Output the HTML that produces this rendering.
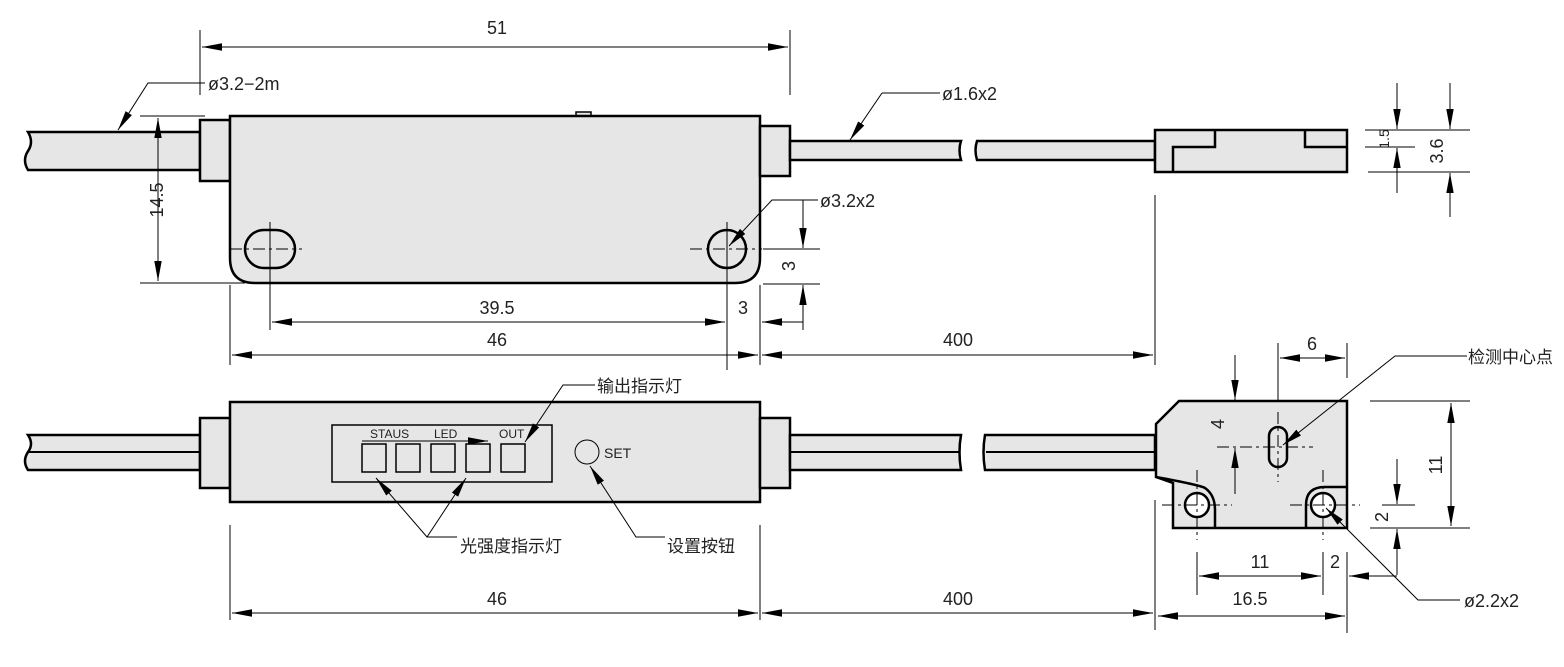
<!DOCTYPE html>
<html><head><meta charset="utf-8"><style>
html,body{margin:0;padding:0;background:#fff}
svg{display:block}
text{font-family:"Liberation Sans Narrow","Liberation Sans","Noto Sans CJK SC",sans-serif;font-size:18px;fill:#222}
.cn{font-family:"Liberation Sans","Noto Sans CJK SC",sans-serif;font-size:17px}
.o{fill:#e6e6e6;stroke:#000;stroke-width:2.5}
.t{fill:none;stroke:#000;stroke-width:1}
.k{fill:none;stroke:#000;stroke-width:2.5}
.c{fill:none;stroke:#000;stroke-width:1;stroke-dasharray:12 4 3 4}
.d{fill:none;stroke:#000;stroke-width:1;marker-start:url(#a);marker-end:url(#a)}
.e{fill:none;stroke:#000;stroke-width:1;marker-end:url(#a)}
</style></head><body>
<svg width="1564" height="667" viewBox="0 0 1564 667" xmlns="http://www.w3.org/2000/svg">
<defs><marker id="a" markerUnits="userSpaceOnUse" markerWidth="22" markerHeight="10" refX="20" refY="5" orient="auto-start-reverse"><path d="M0,1.3 L20,5 L0,8.7 Z" fill="#000"/></marker></defs>

<!-- TOP VIEW -->
<path class="o" d="M28,132 H200 V170 H28 Q22,160 28,151 Q34,142 28,132 Z"/>
<rect class="o" x="200" y="120" width="30" height="61"/>
<rect class="o" x="576" y="112" width="15" height="4" style="stroke-width:1.5"/>
<path class="o" d="M230,116 H760 V258 Q760,283 735,283 H255 Q230,283 230,258 Z"/>
<rect class="o" x="760" y="126" width="30" height="50"/>
<path class="o" d="M790,141 H961 Q958,150 961,160 H790 Z"/>
<path class="o" d="M977,141 H1155 V160 H977 Q974,150 977,141 Z"/>
<rect class="o" x="1155" y="130" width="192" height="42"/>
<path class="k" d="M1215,130 V147 H1173 V172 M1305,130 V147 H1347"/>
<rect x="245" y="230" width="50" height="38" rx="19" fill="#e6e6e6" stroke="#000" stroke-width="2.5"/>
<circle cx="727" cy="249" r="19" fill="#e6e6e6" stroke="#000" stroke-width="2.5"/>
<path class="c" d="M230,249 H302 M690,249 H762"/>
<path class="t" d="M270,222 V330 M727,222 V370"/>

<!-- top dims -->
<path class="t" d="M200,30 V95 M790,30 V95"/>
<path class="d" d="M202,47 H788"/><text x="497" y="34" text-anchor="middle">51</text>
<path class="e" d="M205,83 H148 L118,130"/><text x="208" y="90">ø3.2−2m</text>
<path class="t" d="M140,116 H205 M140,283 H245"/>
<path class="d" d="M158,118 V281"/><text transform="translate(163,200) rotate(-90)" text-anchor="middle">14.5</text>
<path class="e" d="M882,93 L850,140"/><path class="t" d="M882,93 H940"/><text x="942" y="100">ø1.6x2</text>
<path class="e" d="M818,200 H772 L729,246"/><text x="820" y="207">ø3.2x2</text>
<path class="t" d="M763,249 H820 M763,284 H820"/>
<path class="e" d="M803,200 V248"/><path class="e" d="M803,330 V285"/>
<text transform="translate(795,266) rotate(-90)" text-anchor="middle">3</text>
<path class="t" d="M230,285 V365 M760,285 V365 M1155,195 V365"/>
<path class="d" d="M272,322 H725"/><text x="497" y="314" text-anchor="middle">39.5</text>
<path class="e" d="M803,322 H762"/><text x="743" y="314" text-anchor="middle">3</text>
<path class="d" d="M232,355 H758"/><text x="497" y="346" text-anchor="middle">46</text>
<path class="d" d="M762,355 H1153"/><text x="958" y="346" text-anchor="middle">400</text>
<path class="t" d="M1365,130 H1470 M1365,147 H1415 M1368,172 H1470"/>
<path class="e" d="M1397,83 V129"/><path class="e" d="M1397,193 V148"/>
<path class="e" d="M1450,83 V129"/><path class="e" d="M1450,217 V173"/>
<text transform="translate(1389,139) rotate(-90)" text-anchor="middle" style="font-size:14px">1.5</text>
<text transform="translate(1443,151) rotate(-90)" text-anchor="middle">3.6</text>

<!-- BOTTOM VIEW -->
<path class="o" d="M28,435 H200 V470 H28 Q22,461 28,452 Q34,444 28,435 Z"/>
<path class="t" style="stroke-width:2" d="M28,452 H200"/>
<rect class="o" x="200" y="418" width="30" height="70"/>
<rect class="o" x="230" y="402" width="530" height="100"/>
<rect class="o" x="760" y="418" width="30" height="70"/>
<path class="o" d="M790,435 H961 Q958,452 961,470 H790 Z"/>
<path class="o" d="M985,435 H1155 V470 H985 Q982,452 985,435 Z"/>
<path class="t" style="stroke-width:2" d="M790,452 H959 M986,452 H1155"/>
<rect x="332" y="425" width="220" height="57" fill="none" stroke="#000" stroke-width="1.5"/>
<g fill="none" stroke="#000" stroke-width="1.5">
<rect x="362" y="444" width="24" height="28"/><rect x="396" y="444" width="24" height="28"/>
<rect x="431" y="444" width="24" height="28"/><rect x="466" y="444" width="24" height="28"/>
<rect x="501" y="444" width="24" height="28"/></g>
<text x="370" y="438" style="font-size:12px">STAUS</text><text x="434" y="438" style="font-size:12px">LED</text><text x="499" y="438" style="font-size:12px">OUT</text>
<path class="e" d="M362,441 H488"/>
<circle cx="587" cy="452" r="12" fill="none" stroke="#000"/><text x="604" y="458" style="font-size:14px">SET</text>
<path class="e" d="M595,385 H563 L525,442"/><text class="cn" x="597" y="392">输出指示灯</text>
<path class="e" d="M457,537 H427 L376,478"/><path class="e" d="M427,537 L466,478"/><text class="cn" x="460" y="552">光强度指示灯</text>
<path class="e" d="M665,537 H636 L590,466"/><text class="cn" x="667" y="552">设置按钮</text>
<path class="t" d="M230,525 V620 M760,525 V620 M1155,500 V630"/>
<path class="d" d="M232,613 H758"/><text x="497" y="605" text-anchor="middle">46</text>
<path class="d" d="M762,613 H1153"/><text x="958" y="605" text-anchor="middle">400</text>

<!-- right bottom view -->
<path class="o" d="M1179,401 H1347 V528 H1173 V483 L1156,477 V424 Z"/>
<path class="k" d="M1156,477 Q1200,485 1205,488 Q1215,495 1215,510 V528 M1306,528 V505 Q1306,487 1325,487 H1347"/>
<rect x="1269" y="427" width="18" height="40" rx="9" fill="none" stroke="#000" stroke-width="2.5"/>
<circle cx="1197" cy="505" r="12" fill="#fff" stroke="#000" stroke-width="2.5"/>
<circle cx="1323" cy="505" r="12" fill="#fff" stroke="#000" stroke-width="2.5"/>
<path class="c" d="M1217,447 H1313 M1278,412 V482 M1162,505 H1232 M1290,505 H1360 M1197,470 V540 M1323,470 V540"/>
<path class="t" d="M1278,343 V401 M1347,343 V378"/>
<path class="d" d="M1280,358 H1345"/><text x="1312" y="350" text-anchor="middle">6</text>
<path class="e" d="M1467,356 H1395 L1283,445"/><text class="cn" x="1468" y="363">检测中心点</text>
<path class="e" d="M1235,355 V400"/><path class="e" d="M1235,494 V448"/>
<text transform="translate(1224,424) rotate(-90)" text-anchor="middle">4</text>
<path class="t" d="M1370,401 H1470 M1370,528 H1470 M1382,505 H1415"/>
<path class="d" d="M1451,403 V526"/><text transform="translate(1442,465) rotate(-90)" text-anchor="middle">11</text>
<path class="e" d="M1397,459 V504"/><path class="e" d="M1397,575 V529"/>
<text transform="translate(1388,517) rotate(-90)" text-anchor="middle">2</text>
<path class="t" d="M1197,552 V595 M1323,552 V595 M1347,552 V633"/>
<path class="d" d="M1199,576 H1321"/><text x="1260" y="568" text-anchor="middle">11</text>
<path class="e" d="M1397,576 H1349"/><text x="1335" y="568" text-anchor="middle">2</text>
<path class="d" d="M1158,616 H1345"/><text x="1250" y="605" text-anchor="middle">16.5</text>
<path class="e" d="M1460,600 H1418 L1326,508"/><text x="1464" y="607">ø2.2x2</text>
</svg>
</body></html>
